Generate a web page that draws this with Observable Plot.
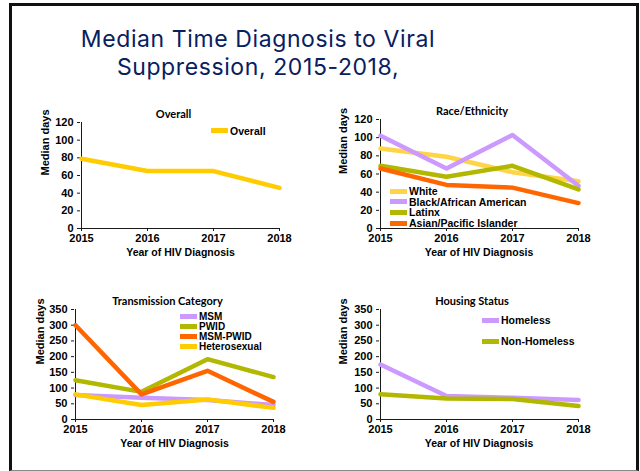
<!DOCTYPE html>
<html><head><meta charset="utf-8">
<script src="https://cdn.jsdelivr.net/npm/d3@7"></script>
<script src="https://cdn.jsdelivr.net/npm/@observablehq/plot@0.6"></script>
<style>
body{margin:0;background:#fff;}
#wrap{position:relative;width:640px;height:471px;overflow:hidden;background:#fff;font-family:"Liberation Sans",Arial,sans-serif;}
#frame{position:absolute;left:9px;top:3px;width:630px;height:468px;box-sizing:border-box;border:3px solid #111;border-bottom:1px solid #888;}
.title{position:absolute;left:0;width:516px;text-align:center;font-family:Inter,"Open Sans",sans-serif;font-size:23px;letter-spacing:0.6px;line-height:26px;height:26px;color:#082060;white-space:nowrap;}
.panel{position:absolute;}
.panel svg{overflow:visible;}
.leg{position:absolute;font:bold 10.5px "Liberation Sans",Arial,sans-serif;color:#000;white-space:nowrap;height:10px;line-height:10px;}
.leg.small{font-size:10px;height:9px;line-height:9px;}
.sw{display:inline-block;width:17px;height:5px;vertical-align:middle;margin-right:2px;position:relative;top:-1px;}
</style>
</head><body>
<div id="wrap">
  <div id="frame"></div>
  <div class="title" id="t1"></div>
  <div class="title" id="t2"></div>
</div>
<script>
const titleLines = ["Median Time Diagnosis to Viral", "Suppression, 2015-2018,"];

const years = ["2015", "2016", "2017", "2018"];

const overallNames = ["Overall"];
const overallValues = [79, 65, 65, 46];

const raceNames = ["White", "Black/African American", "Latinx", "Asian/Pacific Islander"];
const whiteValues = [88, 79, 62, 52];
const blackValues = [102, 66, 103, 47];
const latinxValues = [69, 57, 69, 43];
const asianValues = [66, 48, 45, 28];

const transNames = ["MSM", "PWID", "MSM-PWID", "Heterosexual"];
const msmValues = [78, 69, 62, 46];
const pwidValues = [125, 88, 192, 135];
const msmPwidValues = [300, 80, 155, 56];
const heteroValues = [80, 46, 64, 37];

const housingNames = ["Homeless", "Non-Homeless"];
const homelessValues = [175, 75, 69, 62];
const nonHomelessValues = [80, 67, 65, 43];

const C = {yellow: "#FFCC00", lightYellow: "#FFD447", lavender: "#CC99FF", olive: "#B2B800", orange: "#FF6600"};

const t1 = document.getElementById("t1"), t2 = document.getElementById("t2");
t1.textContent = titleLines[0]; t1.style.top = "26px";
t2.textContent = titleLines[1]; t2.style.top = "54px";

const panels = [
  {title: "Overall", names: overallNames, values: [overallValues], colors: [C.yellow],
   left: 20, top: 100, w: 300, h: 170, m: [22, 40, 42, 60], yMax: 120, step: 20,
   titleDx: -7, titleDy: -12, ylabDx: -35,
   legend: {x: 211, rows: [130.7], small: false}},
  {title: "Race/Ethnicity", names: raceNames, values: [whiteValues, blackValues, latinxValues, asianValues],
   colors: [C.lightYellow, C.lavender, C.olive, C.orange],
   left: 330, top: 100, w: 300, h: 170, m: [19, 52, 42, 49], yMax: 120, step: 20,
   titleDx: -7, titleDy: -12, ylabDx: -36,
   legend: {x: 390, rows: [191, 201.5, 212, 223], small: false}},
  {title: "Transmission Category", names: transNames, values: [msmValues, pwidValues, msmPwidValues, heteroValues],
   colors: [C.lavender, C.olive, C.orange, C.yellow],
   left: 20, top: 285, w: 300, h: 180, m: [24, 46, 46, 54], yMax: 350, step: 50,
   titleDx: -7, titleDy: -12.5, ylabDx: -34,
   legend: {x: 180, rows: [316.7, 326.7, 336.7, 346.7], small: true}},
  {title: "Housing Status", names: housingNames, values: [homelessValues, nonHomelessValues],
   colors: [C.lavender, C.olive],
   left: 330, top: 285, w: 300, h: 180, m: [24, 52, 46, 49], yMax: 350, step: 50,
   titleDx: -7, titleDy: -12.5, ylabDx: -36,
   legend: {x: 482, rows: [320, 341], small: false}}
];

const wrap = document.getElementById("wrap");
const axisColor = "#1a1a1a";

for (const p of panels) {
  const rows = p.names.flatMap((n, k) => years.map((yr, i) => ({year: yr, value: p.values[k][i], name: n})));
  const chart = Plot.plot({
    width: p.w, height: p.h,
    marginTop: p.m[0], marginRight: p.m[1], marginBottom: p.m[2], marginLeft: p.m[3],
    style: {fontFamily: "'Liberation Sans', Arial, sans-serif", fontSize: "11px", fontWeight: "bold", color: "#000", background: "transparent", overflow: "visible"},
    x: {type: "point", domain: years, padding: 0, label: null, tickSize: 3, tickPadding: 3},
    y: {domain: [0, p.yMax], ticks: d3.range(0, p.yMax + 1, p.step), label: null, tickSize: 3, tickPadding: 4},
    color: {domain: p.names, range: p.colors},
    marks: [
      Plot.ruleY([0], {stroke: axisColor}),
      Plot.ruleX([years[0]], {stroke: axisColor}),
      Plot.line(rows, {x: "year", y: "value", z: "name", stroke: "name", strokeWidth: 4.5, strokeLinejoin: "round"}),
      Plot.text([p.title], {frameAnchor: "top", dx: p.titleDx, dy: p.titleDy, fontFamily: "Lato, sans-serif", fontSize: 11, fontWeight: "bold", fill: "#000"}),
      Plot.text(["Median days"], {frameAnchor: "left", dx: p.ylabDx, rotate: -90, fontSize: 11, fontWeight: "bold", fill: "#000"}),
      Plot.text(["Year of HIV Diagnosis"], {frameAnchor: "bottom", dy: 27.5, fontSize: 10.5, fontWeight: "bold", fill: "#000"})
    ]
  });
  chart.querySelectorAll("g[aria-label='x-axis tick'] path, g[aria-label='y-axis tick'] path, g[aria-label='x-axis tick'], g[aria-label='y-axis tick']").forEach(e => e.setAttribute("stroke", axisColor));
  const holder = document.createElement("div");
  holder.className = "panel";
  holder.style.left = p.left + "px";
  holder.style.top = p.top + "px";
  holder.appendChild(chart);
  wrap.appendChild(holder);

  p.names.forEach((n, k) => {
    const row = document.createElement("div");
    row.className = p.legend.small ? "leg small" : "leg";
    row.style.left = p.legend.x + "px";
    row.style.top = (p.legend.rows[k] - (p.legend.small ? 4.5 : 5)) + "px";
    const sw = document.createElement("span");
    sw.className = "sw";
    sw.style.background = p.colors[k];
    row.appendChild(sw);
    row.appendChild(document.createTextNode(n));
    wrap.appendChild(row);
  });
}
</script>
</body></html>
